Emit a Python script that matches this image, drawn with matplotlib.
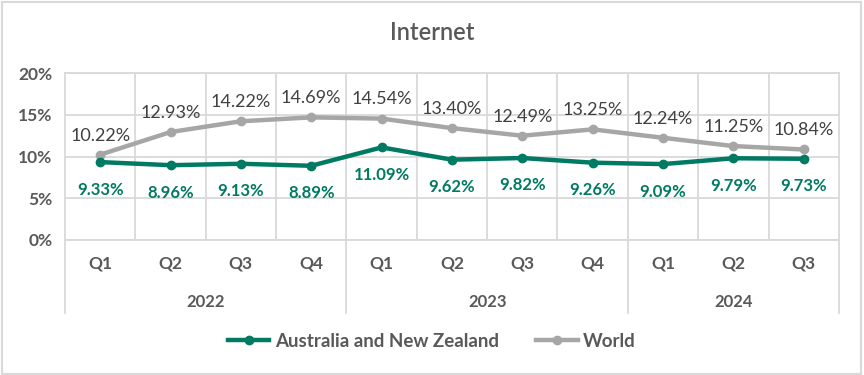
import matplotlib
matplotlib.use("Agg")
import matplotlib.pyplot as plt
from matplotlib.lines import Line2D
from matplotlib.patches import Rectangle
import matplotlib.transforms as mtransforms

quarters = ["Q1", "Q2", "Q3", "Q4", "Q1", "Q2", "Q3", "Q4", "Q1", "Q2", "Q3"]
years = ["2022", "2023", "2024"]
year_counts = [4, 4, 3]
anz = [9.33, 8.96, 9.13, 8.89, 11.09, 9.62, 9.82, 9.26, 9.09, 9.79, 9.73]
world = [10.22, 12.93, 14.22, 14.69, 14.54, 13.40, 12.49, 13.25, 12.24, 11.25, 10.84]
yticks = [0, 5, 10, 15, 20]

GREEN = "#007A63"
GREY_LINE = "#A6A6A6"
TEXT = "#595959"
GRID = "#D9D9D9"

plt.rcParams["font.family"] = ["Lato", "DejaVu Sans"]

fig = plt.figure(figsize=(8.64, 3.75), dpi=100)
fig.patches.append(Rectangle((0.002, 0.003), 0.995, 0.993, transform=fig.transFigure,
                             fill=False, edgecolor="#D9D9D9", linewidth=1.5))
ax = fig.add_axes([0.0752, 0.36, 0.8958, 0.4453])

x = list(range(len(quarters)))
ax.plot(x, world, color=GREY_LINE, lw=3.2, marker="o", ms=6, zorder=3, label="World",
        solid_capstyle="round")
ax.plot(x, anz, color=GREEN, lw=3.2, marker="o", ms=6, zorder=4,
        label="Australia and New Zealand", solid_capstyle="round")

for xi, v in zip(x, world):
    ax.annotate(f"{v:.2f}%", (xi, v), xytext=(0, 8), textcoords="offset points",
                ha="center", va="bottom", fontsize=13, color="#404040")
for xi, v in zip(x, anz):
    ax.annotate(f"{v:.2f}%", (xi, v), xytext=(0, -14), textcoords="offset points",
                ha="center", va="top", fontsize=12, color=GREEN, fontweight="bold")

ax.set_xlim(-0.5, len(quarters) - 0.5)
ax.set_ylim(0, 20)
ax.set_yticks(yticks)
ax.set_yticklabels([f"{t}%" for t in yticks], fontsize=12.5, fontweight="bold", color=TEXT)
ax.set_xticks(x)
ax.set_xticklabels(quarters, fontsize=12.5, fontweight="bold", color=TEXT)
ax.tick_params(axis="x", length=0, pad=11)
ax.tick_params(axis="y", length=0, pad=9)
ax.set_xticks([i + 0.5 for i in range(len(quarters) - 1)], minor=True)
ax.tick_params(axis="x", which="minor", length=0)
ax.grid(axis="y", color=GRID, lw=1.3)
ax.grid(axis="x", which="minor", color=GRID, lw=1.3)
for s in ["top", "right", "left", "bottom"]:
    ax.spines[s].set_color(GRID)
    ax.spines[s].set_linewidth(1.3)

# multi-level year labels
trans = mtransforms.blended_transform_factory(ax.transData, ax.transAxes)
start = -0.5
bounds = [start]
for y, c in zip(years, year_counts):
    end = start + c
    ax.text((start + end) / 2, -0.37, y, transform=trans, ha="center", va="center",
            fontsize=12, fontweight="bold", color=TEXT)
    bounds.append(end)
    start = end
for b in bounds:
    ax.plot([b, b], [0, -0.44], transform=trans, color=GRID, lw=1.3, clip_on=False)

fig.text(0.5, 0.912, "Internet", ha="center", va="center", fontsize=17,
         fontweight="semibold", color=TEXT)

handles = [Line2D([], [], color=GREEN, lw=3.2, marker="o", ms=6),
           Line2D([], [], color=GREY_LINE, lw=3.2, marker="o", ms=6)]
fig.legend(handles, ["Australia and New Zealand", "World"], loc="center",
           bbox_to_anchor=(0.5, 0.09), ncol=2, frameon=False, handlelength=2.2,
           handletextpad=0.3, columnspacing=2.0,
           prop={"size": 13.5, "weight": "bold"}, labelcolor=TEXT)

fig.savefig("out.png", dpi=100)
